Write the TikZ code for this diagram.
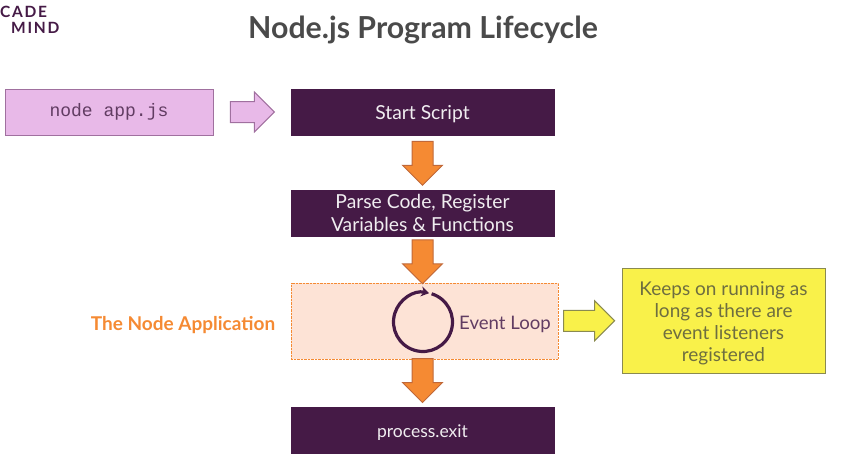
\documentclass[tikz,border=0pt]{standalone}
\usepackage{fontspec}
\setmainfont{Lato}
\setmonofont{Liberation Mono}
\newfontfamily\logofont[LetterSpace=11]{Lato}
\usetikzlibrary{shapes.arrows,calc,arrows.meta}
\definecolor{darkplum}{HTML}{451A46}
\definecolor{softpink}{HTML}{E8B9E8}
\definecolor{pinkline}{HTML}{A0709F}
\definecolor{softpeach}{HTML}{FDE3D6}
\definecolor{brightorange}{HTML}{F58A33}
\definecolor{brightyellow}{HTML}{F9F14A}
\definecolor{yellowline}{HTML}{8A8A50}
\definecolor{titlegray}{HTML}{4A4A4A}
\tikzset{
	stepbox/.style= {
		shape=rectangle, draw=darkplum, fill=darkplum,
		minimum width=263pt, minimum height=46pt,
		inner sep=0, align=center, text=white!92!darkplum,
		font=\fontsize{19.3}{22.5}\selectfont
	},
	blockarrow/.style= {
		shape=single arrow, draw, inner sep=10pt,
		single arrow head extend=9.5pt,
		single arrow tip angle=90,
		line width=1pt
	},
	downarrow/.style= {
		blockarrow, rotate=-90, minimum height=44pt,
		fill=brightorange, draw=brightorange!70!darkplum
	}
}

\begin{document}
\begin{tikzpicture}[x=1pt,y=-1pt]
\useasboundingbox (0,0) rectangle (856,472);

% heading
\node[font=\bfseries\fontsize{30.3}{36}\selectfont, text=titlegray] (title) at (423,30) {Node.js Program Lifecycle};
\node[anchor=west, inner sep=0, font=\logofont\bfseries\fontsize{15.5}{16}\selectfont, text=darkplum] (logotop) at (0,12) {CADE};
\node[anchor=west, inner sep=0, font=\logofont\bfseries\fontsize{15.5}{16}\selectfont, text=darkplum] (logobottom) at (11,28) {MIND};

% boxes
\node[draw=pinkline, fill=softpink, line width=1pt, minimum width=208pt, minimum height=46pt, inner sep=0, text=darkplum!85!white, font=\ttfamily\fontsize{18}{20}\selectfont] (command) at (109,112) {node app.js};
\node[stepbox, text height=18pt] (start) at (422.5,112) {Start Script};
\node[stepbox] (parse) at (422.5,213) {Parse Code, Register\\Variables \& Functions};
\node[draw=brightorange, densely dotted, fill=softpeach, minimum width=267pt, minimum height=76pt, inner sep=0] (app) at (424.5,321) {};
\node[stepbox, text height=17pt, font=\fontsize{17.5}{23}\selectfont] (exit) at (422.5,430.5) {process.exit};
\node[draw=yellowline, fill=brightyellow, line width=1pt, minimum width=203pt, minimum height=105pt, inner sep=0, align=center, text=yellowline!80!black, font=\fontsize{19}{22}\selectfont] (note) at (723.5,320.5) {\rule{0pt}{20pt}Keeps on running as\\long as there are\\event listeners\\registered};

% labels
\node[font=\bfseries\fontsize{19}{22}\selectfont, text=brightorange] (applabel) at (183,325) {The Node Application};
\node[font=\fontsize{18.6}{20}\selectfont, text=darkplum!85!white] (looplabel) at (505,324) {Event Loop};

% loop
\coordinate (loopcentre) at (423,322);
\draw[darkplum, line width=3.2pt, -{Stealth[length=8pt,width=10pt]}] ([shift={(73:29.5pt)}]loopcentre) arc[start angle=73, end angle=-282, radius=29.5pt];

% arrows
\node[blockarrow, minimum height=44pt, fill=softpink, draw=pinkline, xshift=-5pt] (toStart) at ($(command.east)!0.5!(start.west)$) {};
\node[yshift=4.5pt, downarrow] (toParse) at ($(start.south)!0.5!(parse.north)$) {};
\node[yshift=3pt, downarrow] (toApp) at ($(parse.south)!0.5!(parse.south|-app.north)$) {};
\node[yshift=8pt, downarrow] (toExit) at ($(parse.south|-app.south)!0.5!(exit.north)$) {};
\node[blockarrow, minimum height=51pt, fill=brightyellow, draw=yellowline, xshift=-6pt] (toNote) at ($(app.east)!0.5!(note.west)$) {};
\end{tikzpicture}
\end{document}
